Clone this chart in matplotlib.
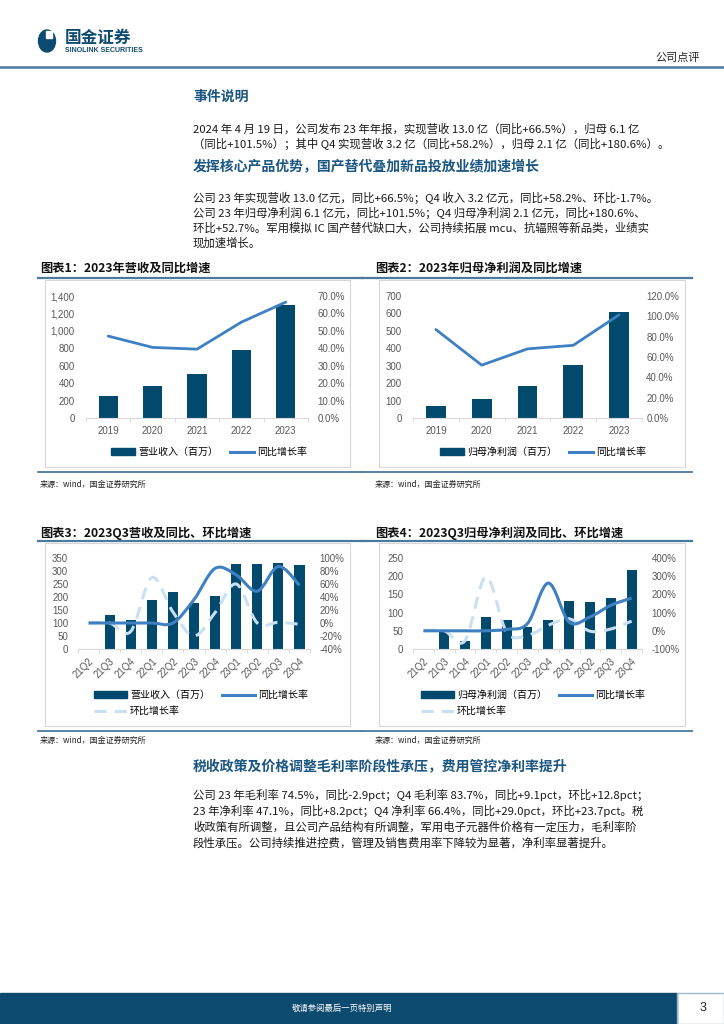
import matplotlib

matplotlib.use("Agg")
import matplotlib.pyplot as plt
from matplotlib.lines import Line2D
from matplotlib.patches import Ellipse, PathPatch, Patch, Rectangle
from matplotlib.path import Path
from matplotlib.ticker import FuncFormatter, MultipleLocator

W, H = 724, 1024
NAVY = "#0d4a6f"
BAR = "#014a6e"
LINE = "#3f80c3"
LIGHT = "#c9dff2"
HEAD = "#1b5682"
RULE = "#4a7b9c"
GRAY = "#595959"
CJK = "Noto Sans CJK SC"

plt.rcParams["font.family"] = ["Liberation Sans", CJK, "DejaVu Sans"]

# ---- data ----
years = ["2019", "2020", "2021", "2022", "2023"]
rev_year = [258, 362, 505, 781, 1300]
rev_year_yoy = [47.0, 40.5, 39.5, 55.0, 66.5]
np_year = [70, 108, 181, 303, 610]
np_year_yoy = [87.0, 52.0, 68.0, 71.5, 101.5]

quarters = ["21Q2", "21Q3", "21Q4", "22Q1", "22Q2", "22Q3",
            "22Q4", "23Q1", "23Q2", "23Q3", "23Q4"]
rev_q = [0, 130, 113, 188, 220, 177, 205, 327, 328, 329, 323]
rev_q_yoy = [0, 0, 0, 0, 0, 36, 84, 74, 49, 87, 58]
rev_q_qoq = [0, 0, -13, 70, 17, -20, 16, 60, 0, 1, -2]
np_q = [0, 46, 21, 88, 81, 61, 79, 131, 128, 141, 216]
np_q_yoy = [0, 0, 0, 0, 8, 40, 262, 48, 76, 140, 180]
np_q_qoq = [0, 0, -54, 296, -8, -25, 30, 66, -2, 10, 53]

para1 = [
    "2024 年 4 月 19 日，公司发布 23 年年报，实现营收 13.0 亿（同比+66.5%），归母 6.1 亿",
    "（同比+101.5%）；其中 Q4 实现营收 3.2 亿（同比+58.2%），归母 2.1 亿（同比+180.6%）。",
]
para2 = [
    "公司 23 年实现营收 13.0 亿元，同比+66.5%；Q4 收入 3.2 亿元，同比+58.2%、环比-1.7%。",
    "公司 23 年归母净利润 6.1 亿元，同比+101.5%；Q4 归母净利润 2.1 亿元，同比+180.6%、",
    "环比+52.7%。军用模拟 IC 国产替代缺口大，公司持续拓展 mcu、抗辐照等新品类，业绩实",
    "现加速增长。",
]
para3 = [
    "公司 23 年毛利率 74.5%，同比-2.9pct；Q4 毛利率 83.7%，同比+9.1pct，环比+12.8pct；",
    "23 年净利率 47.1%，同比+8.2pct；Q4 净利率 66.4%，同比+29.0pct，环比+23.7pct。税",
    "收政策有所调整，且公司产品结构有所调整，军用电子元器件价格有一定压力，毛利率阶",
    "段性承压。公司持续推进控费，管理及销售费用率下降较为显著，净利率显著提升。",
]


def fx(x):
    return x / W


def fy(y):
    return 1 - y / H


def rect(x0, y0, x1, y1):
    return [fx(x0), fy(y1), (x1 - x0) / W, (y1 - y0) / H]


def hline(fig, x0, x1, y, color=RULE, lw=1.6):
    fig.add_artist(Line2D([fx(x0), fx(x1)], [fy(y), fy(y)], color=color, lw=lw,
                          transform=fig.transFigure))


def smooth_path(xs, ys):
    pts = list(zip(xs, ys))
    n = len(pts)
    verts, codes = [pts[0]], [Path.MOVETO]
    for i in range(n - 1):
        p0 = pts[i - 1] if i > 0 else pts[i]
        p1, p2 = pts[i], pts[i + 1]
        p3 = pts[i + 2] if i + 2 < n else pts[i + 1]
        c1 = (p1[0] + (p2[0] - p0[0]) / 6, p1[1] + (p2[1] - p0[1]) / 6)
        c2 = (p2[0] - (p3[0] - p1[0]) / 6, p2[1] - (p3[1] - p1[1]) / 6)
        verts += [c1, c2, p2]
        codes += [Path.CURVE4] * 3
    return Path(verts, codes)


def style_axes(ax, ax2, labels, rotate=False, lpad=7, rpad=6):
    for a in (ax, ax2):
        for s in ("top", "left", "right", "bottom"):
            a.spines[s].set_visible(False)
        a.tick_params(axis="y", length=0, labelsize=7, labelcolor=GRAY)
    ax.spines["bottom"].set_visible(True)
    ax.spines["bottom"].set_color("#d9d9d9")
    ax.tick_params(axis="y", pad=lpad)
    ax2.tick_params(axis="y", pad=rpad)
    n = len(labels)
    ax.set_xlim(-0.5, n - 0.5)
    ax.set_xticks(range(n))
    ax.set_xticks([i - 0.5 for i in range(n + 1)], minor=True)
    ax.tick_params(axis="x", which="major", length=0, labelsize=7, labelcolor=GRAY, pad=6)
    ax.tick_params(axis="x", which="minor", length=3, color="#d9d9d9")
    if rotate:
        ax.set_xticklabels(labels, rotation=45, ha="right", rotation_mode="anchor",
                           fontsize=7)
        ax.tick_params(axis="x", which="major", pad=5)
    else:
        ax.set_xticklabels(labels)


fig = plt.figure(figsize=(W / 100, H / 100), dpi=100)

# ---- page header ----
fig.add_artist(Ellipse((fx(47), fy(41)), 17 / W, 22 / H, color=NAVY,
                       transform=fig.transFigure))
fig.add_artist(Rectangle((fx(46), fy(38)), 6 / W, 7 / H, color="white",
                         transform=fig.transFigure))
fig.text(fx(65), fy(38), "国金证券", family=CJK, weight="bold", fontsize=12,
         color=NAVY, va="center")
fig.text(fx(65), fy(50), "SINOLINK SECURITIES", weight="bold", fontsize=5,
         color=NAVY, va="center")
fig.text(fx(700), fy(58), "公司点评", family=CJK, fontsize=8, color="#222222",
         ha="right", va="center")
hline(fig, 0, W, 67, lw=1.8)

# ---- text blocks ----
def heading(y, s):
    fig.text(fx(193), fy(y), s, family=CJK, weight="bold", fontsize=10,
             color=HEAD, va="center")


def para(y0, lines, step=16.5):
    for i, s in enumerate(lines):
        fig.text(fx(193), fy(y0 + i * step), s, family=[CJK, "DejaVu Sans"],
                 fontsize=8.2, color="#1a1a1a", va="center")


heading(97, "事件说明")
para(129, para1, step=15)
heading(167, "发挥核心产品优势，国产替代叠加新品投放业绩加速增长")
para(198, para2, step=15)
heading(767, "税收政策及价格调整毛利率阶段性承压，费用管控净利率提升")
para(795, para3, step=16)

# ---- chart frames, titles, rules ----
frames = [
    (40, 375, 268, 278, 472, 484, "图表1：2023年营收及同比增速", "图表2：2023年归母净利润及同比增速"),
    (40, 375, 533, 541, 731, 740, "图表3：2023Q3营收及同比、环比增速", "图表4：2023Q3归母净利润及同比、环比增速"),
]
for lx, rx, ty, top, bot, src, t1, t2 in frames:
    fig.text(fx(lx), fy(ty), t1, family=CJK, weight="bold", fontsize=8.8,
             color="#111111", va="center")
    fig.text(fx(rx), fy(ty), t2, family=CJK, weight="bold", fontsize=8.8,
             color="#111111", va="center")
    hline(fig, 38, 362, top)
    hline(fig, 362, 692, top)
    hline(fig, 38, 362, bot, lw=1.3)
    hline(fig, 362, 692, bot, lw=1.3)
    fig.text(fx(40), fy(src), "来源：wind，国金证券研究所", family=CJK, fontsize=5.8,
             color="#222222", va="center")
    fig.text(fx(375), fy(src), "来源：wind，国金证券研究所", family=CJK, fontsize=5.8,
             color="#222222", va="center")
    fig.add_artist(Rectangle((fx(45), fy(bot - 5)), 305 / W, (bot - 5 - top - 2) / H,
                             fill=False, ec="#d6d6d6", lw=0.8, transform=fig.transFigure))
    fig.add_artist(Rectangle((fx(379), fy(bot - 5)), 306 / W, (bot - 5 - top - 2) / H,
                             fill=False, ec="#d6d6d6", lw=0.8, transform=fig.transFigure))


def pct(dec):
    return FuncFormatter(lambda v, _: f"{v:.{dec}f}%")


def legend(ax, handles, labels, x, y, ncol, hl):
    ax.legend(handles, labels, loc="center left", bbox_to_anchor=(fx(x), fy(y)),
              bbox_transform=fig.transFigure, frameon=False, ncol=ncol,
              handlelength=hl, handletextpad=0.3, columnspacing=1.2,
              borderpad=0, labelspacing=0.6, prop={"family": CJK, "size": 7.2})


def annual_chart(box, bars, yoy, ymax, ystep, rmax, rstep, bar_label, rpad, lx):
    ax = fig.add_axes(rect(*box))
    ax2 = ax.twinx()
    x = range(len(years))
    ax.bar(x, bars, width=0.43, color=BAR, zorder=2)
    ax2.plot(x, yoy, color=LINE, lw=2.0, solid_capstyle="round")
    ax.set_ylim(0, ymax)
    ax.yaxis.set_major_locator(MultipleLocator(ystep))
    ax.yaxis.set_major_formatter(FuncFormatter(lambda v, _: f"{v:,.0f}"))
    ax2.set_ylim(0, rmax)
    ax2.yaxis.set_major_locator(MultipleLocator(rstep))
    ax2.yaxis.set_major_formatter(pct(1))
    style_axes(ax, ax2, years, lpad=8, rpad=rpad)
    h = [Patch(color=BAR), Line2D([], [], color=LINE, lw=2.2)]
    legend(ax, h, [bar_label, "同比增长率"], lx, 452, 2, 2.4)


annual_chart((86, 296, 308, 418), rev_year, rev_year_yoy, 1400, 200, 70, 10,
             "营业收入（百万）", 7, 106)
annual_chart((413, 296, 642, 418), np_year, np_year_yoy, 700, 100, 120, 20,
             "归母净利润（百万）", 3, 435)


def quarter_chart(box, bars, yoy, qoq, ymax, ystep, rlim, rstep, bar_label, rpad, lx):
    ax = fig.add_axes(rect(*box))
    ax2 = ax.twinx()
    x = list(range(len(quarters)))
    ax.bar(x, bars, width=0.48, color=BAR, zorder=2)
    ax2.add_patch(PathPatch(smooth_path(x, qoq), fill=False, ec=LIGHT, lw=2.2,
                            linestyle=(0, (4, 2.6)), capstyle="butt"))
    ax2.add_patch(PathPatch(smooth_path(x, yoy), fill=False, ec=LINE, lw=2.2))
    ax.set_ylim(0, ymax)
    ax.yaxis.set_major_locator(MultipleLocator(ystep))
    ax2.set_ylim(*rlim)
    ax2.yaxis.set_major_locator(MultipleLocator(rstep))
    ax2.yaxis.set_major_formatter(pct(0))
    style_axes(ax, ax2, quarters, rotate=True, lpad=7, rpad=rpad)
    h = [Patch(color=BAR), Line2D([], [], color=LIGHT, lw=2.2, ls=(0, (4, 2.6))),
         Line2D([], [], color=LINE, lw=2.2)]
    legend(ax, h, [bar_label, "环比增长率", "同比增长率"], lx, 703, 2, 3.3)


quarter_chart((78, 558, 310, 649), rev_q, rev_q_yoy, rev_q_qoq, 350, 50,
              (-40, 100), 20, "营业收入（百万）", 7, 89)
quarter_chart((413, 558, 642, 649), np_q, np_q_yoy, np_q_qoq, 250, 50,
              (-100, 400), 100, "归母净利润（百万）", 7, 416)

# ---- footer ----
fig.add_artist(Rectangle((0, 0), fx(677), (H - 993) / H, color=NAVY,
                         transform=fig.transFigure))
fig.add_artist(Rectangle((fx(677), 0), (W - 677) / W, (H - 993) / H, fill=False,
                         ec="#9fb9cc", lw=1.0, transform=fig.transFigure))
fig.text(fx(342), fy(1008), "敬请参阅最后一页特别声明", family=CJK, fontsize=6,
         color="white", ha="center", va="center")
fig.text(fx(703), fy(1008), "3", fontsize=9, color="#222222", ha="center", va="center")

fig.savefig("out.png", dpi=100)
